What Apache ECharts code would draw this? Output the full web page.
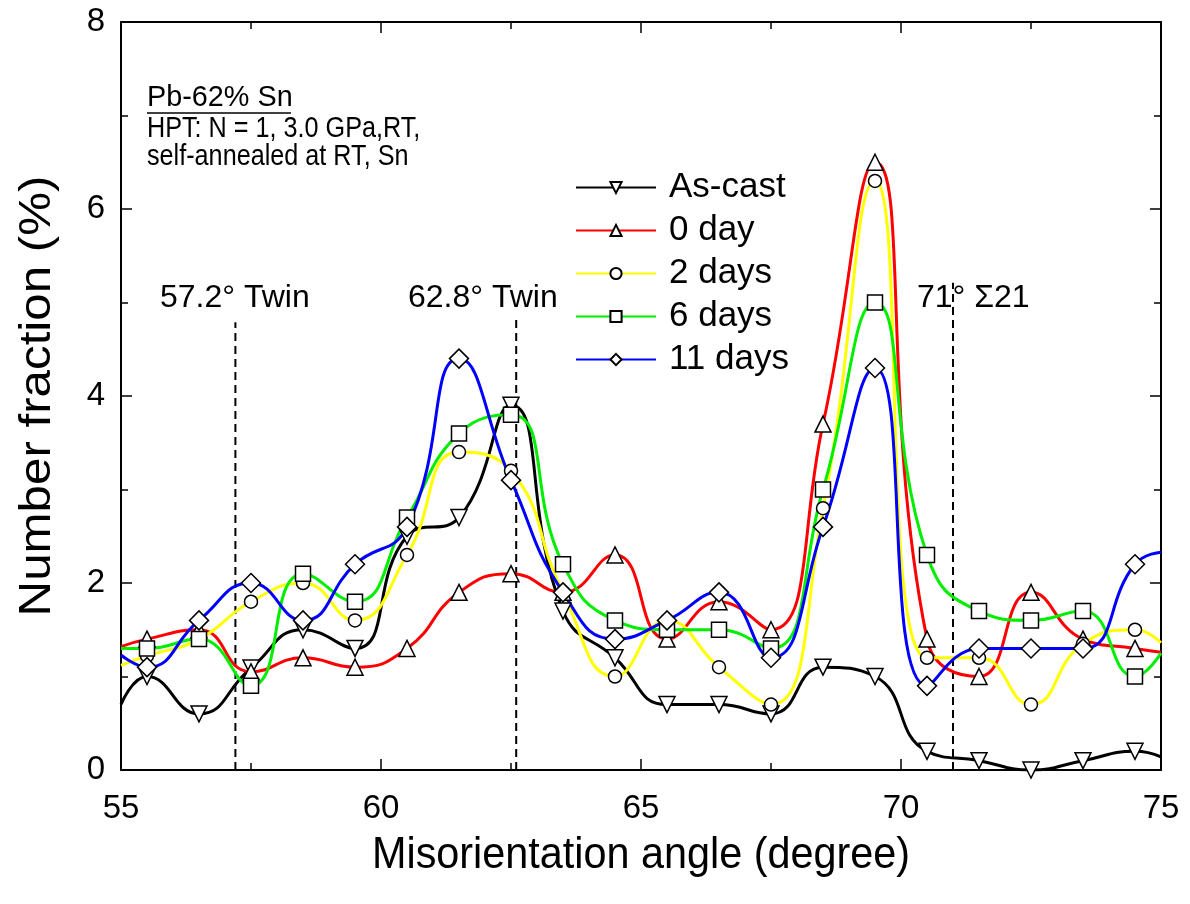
<!doctype html>
<html>
<head>
    <meta http-equiv="Content-Type" content="text/html; charset=utf-8" />
    <title>Misorientation angle distribution</title>
    <script src="https://cdn.jsdelivr.net/npm/echarts@6/dist/echarts.min.js"></script>
    <style>
        html, body { margin: 0; padding: 0; background: #fff; }
        #main { width: 1190px; height: 904px; }
    </style>
</head>
<body>
<div id="main"></div>
<script type="text/javascript">
    // bin centres (degree)
    var angles = [55.5, 56.5, 57.5, 58.5, 59.5, 60.5, 61.5, 62.5, 63.5, 64.5,
                  65.5, 66.5, 67.5, 68.5, 69.5, 70.5, 71.5, 72.5, 73.5, 74.5];

    var seriesNames = ['As-cast', '0 day', '2 days', '6 days', '11 days'];

    // number fraction (%)
    var asCast  = [1.0, 0.6, 1.09, 1.5, 1.3, 2.5, 2.7, 3.9, 1.7, 1.2, 0.7, 0.7, 0.6, 1.1, 1.0, 0.2, 0.1, 0.0, 0.1, 0.2];
    var day0    = [1.4, 1.5, 1.05, 1.2, 1.1, 1.3, 1.9, 2.1, 1.9, 2.3, 1.4, 1.8, 1.5, 3.7, 6.5, 1.4, 1.0, 1.9, 1.4, 1.3];
    var days2   = [1.22, 1.4, 1.8, 2.0, 1.6, 2.3, 3.4, 3.2, 1.9, 1.0, 1.6, 1.1, 0.7, 2.8, 6.3, 1.2, 1.2, 0.7, 1.35, 1.5];
    var days6   = [1.3, 1.4, 0.9, 2.1, 1.8, 2.7, 3.6, 3.8, 2.2, 1.6, 1.5, 1.5, 1.3, 3.0, 5.0, 2.3, 1.7, 1.6, 1.7, 1.0];
    var days11  = [1.1, 1.6, 2.0, 1.6, 2.2, 2.6, 4.4, 3.1, 1.9, 1.4, 1.6, 1.9, 1.2, 2.6, 4.3, 0.9, 1.3, 1.3, 1.3, 2.2];

    // where the fitted curves meet the frame at 55 and 75
    var curveAt55 = [0.70, 1.32, 1.12, 1.30, 1.23];
    var curveAt75 = [0.14, 1.26, 1.36, 1.25, 2.33];

    // special boundaries
    var refAngles = [57.2, 62.6, 71];
    var refTops   = [4.79, 4.83, 5.21];
    var refLabels = ['57.2° Twin', '62.8° Twin', '71° \u03A321'];

    var xTicks = [55, 60, 65, 70, 75];
    var yTicks = [0, 2, 4, 6, 8];

    var lineColors = ['#000000', '#ff0000', '#ffff00', '#00ee00', '#0000ff'];
    var symbols    = ['triangle', 'triangle', 'circle', 'rect', 'diamond'];
    var symRotate  = [180, 0, 0, 0, 0];
    var symSizes   = [16, 16, 13, 15, 19];
    var values     = [asCast, day0, days2, days6, days11];

    var FONT = '"Liberation Sans", Arial, sans-serif';

    var myChart = echarts.init(document.getElementById('main'), null, {renderer: 'canvas'});

    var series = [];
    for (var i = 0; i < seriesNames.length; i++) {
        var data = [{value: [55, curveAt55[i]], symbol: 'none'}];
        for (var j = 0; j < angles.length; j++) {
            data.push([angles[j], values[i][j]]);
        }
        data.push({value: [75, curveAt75[i]], symbol: 'none'});
        series.push({
            name: seriesNames[i],
            type: 'line',
            smooth: 0.5,
            data: data,
            symbol: symbols[i],
            symbolRotate: symRotate[i],
            symbolSize: symSizes[i],
            showAllSymbol: true,
            z: 3,
            lineStyle: {color: lineColors[i], width: 3},
            itemStyle: {color: '#ffffff', borderColor: '#000000', borderWidth: 1.5},
            emphasis: {disabled: true}
        });
    }

    // dashed reference lines
    for (var k = 0; k < refAngles.length; k++) {
        series.push({
            type: 'line',
            silent: true,
            symbol: 'none',
            z: 2,
            data: [[refAngles[k], 0], [refAngles[k], refTops[k]]],
            lineStyle: {color: '#000', width: 2, type: [8, 5]}
        });
    }

    var axisCommon = {
        type: 'value',
        axisLine: {show: true, onZero: false, lineStyle: {color: '#000', width: 2}},
        axisTick: {show: true, inside: true, length: 11, lineStyle: {color: '#000', width: 1.5}},
        minorTick: {show: true, splitNumber: 2, length: 7, lineStyle: {color: '#000', width: 1.5}},
        splitLine: {show: false},
        minorSplitLine: {show: false}
    };

    var txt = function (s, x, y, size, sx, extra) {
        var el = {
            type: 'text', x: x, y: y, scaleX: sx || 1, silent: true,
            style: {text: s, font: size + 'px ' + FONT, fill: '#000', textVerticalAlign: 'middle'}
        };
        return Object.assign(el, extra || {});
    };

    option = {
        backgroundColor: '#ffffff',
        animation: false,
        grid: {left: 121, right: 29, top: 22, bottom: 134},
        legend: {
            data: seriesNames,
            orient: 'vertical',
            left: 570,
            top: 161,
            itemWidth: 80,
            itemHeight: 14,
            itemGap: 0,
            textStyle: {fontFamily: FONT, fontSize: 35, color: '#000', lineHeight: 43, padding: [0, 0, 0, 8]}
        },
        xAxis: [
            Object.assign({}, axisCommon, {
                min: xTicks[0], max: xTicks[xTicks.length - 1], interval: 5,
                position: 'bottom',
                axisLabel: {fontFamily: FONT, fontSize: 33, color: '#000', margin: 22}
            }),
            Object.assign({}, axisCommon, {
                min: xTicks[0], max: xTicks[xTicks.length - 1], interval: 5,
                position: 'top',
                axisLabel: {show: false}
            })
        ],
        yAxis: [
            Object.assign({}, axisCommon, {
                min: yTicks[0], max: yTicks[yTicks.length - 1], interval: 2,
                position: 'left',
                axisLabel: {fontFamily: FONT, fontSize: 33, color: '#000', margin: 16}
            }),
            Object.assign({}, axisCommon, {
                min: yTicks[0], max: yTicks[yTicks.length - 1], interval: 2,
                position: 'right',
                axisLabel: {show: false}
            })
        ],
        graphic: [
            txt('Pb-62% Sn', 147, 98, 30, 0.96),
            {type: 'line', silent: true, shape: {x1: 147, y1: 113, x2: 291, y2: 113}, style: {stroke: '#000', lineWidth: 1.5}},
            txt('HPT: N = 1, 3.0 GPa,RT,', 147, 129, 30, 0.84),
            txt('self-annealed at RT, Sn', 147, 157, 30, 0.84),
            txt(refLabels[0], 160, 298, 32, 1),
            txt(refLabels[1], 408, 298, 32, 1),
            txt(refLabels[2], 917, 298, 32, 1),
            txt('Misorientation angle (degree)', 641, 856, 44, 0.94, {style: {text: 'Misorientation angle (degree)', font: '44px ' + FONT, fill: '#000', textAlign: 'center', textVerticalAlign: 'middle'}}),
            txt('Number fraction (%)', 38, 396, 44, 1.12, {rotation: Math.PI / 2, style: {text: 'Number fraction (%)', font: '44px ' + FONT, fill: '#000', textAlign: 'center', textVerticalAlign: 'middle'}})
        ],
        series: series
    };

    myChart.setOption(option);
</script>
</body>
</html>
